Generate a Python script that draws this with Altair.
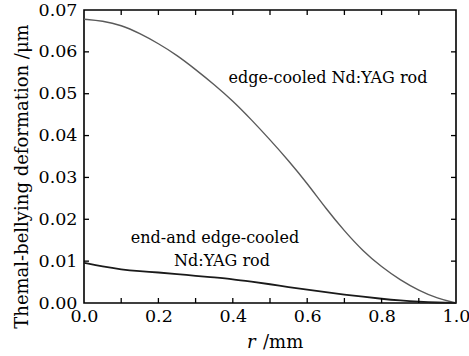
import altair as alt
import pandas as pd

r_vals = [0.0, 0.05, 0.1, 0.15, 0.2, 0.25, 0.3, 0.35, 0.4, 0.45, 0.5,
          0.55, 0.6, 0.65, 0.7, 0.75, 0.8, 0.85, 0.9, 0.95, 1.0]
edge_cooled = [0.0678, 0.0674, 0.0664, 0.0644, 0.0620, 0.0592, 0.0558, 0.0522,
               0.0483, 0.0438, 0.0390, 0.0340, 0.0286, 0.0226, 0.0172, 0.0124,
               0.0086, 0.0055, 0.0030, 0.0011, 0.0]
end_edge_cooled = [0.0096, 0.0087, 0.0080, 0.0076, 0.0073, 0.0069, 0.0065, 0.0061,
                   0.0057, 0.0051, 0.0045, 0.0038, 0.0032, 0.0026, 0.0020, 0.0015,
                   0.0010, 0.0006, 0.0003, 0.0001, 0.0]

x_ticks = [0.1, 0.2, 0.3, 0.4, 0.5, 0.6, 0.7, 0.8, 0.9]
y_ticks = [0.01, 0.02, 0.03, 0.04, 0.05, 0.06]

labels = ["edge-cooled Nd:YAG rod", "end-and edge-cooled", "Nd:YAG rod"]
label_r = [0.656, 0.352, 0.371]
label_v = [0.0537, 0.0155, 0.0100]

FONT = "DejaVu Serif"
W, H = 372, 293

df = pd.DataFrame({"r": r_vals, "edge": edge_cooled, "end": end_edge_cooled})
xs = alt.Scale(domain=[0, 1], nice=False)
ys = alt.Scale(domain=[0, 0.07], nice=False)

base = alt.Chart(df)

upper = base.mark_line(color="#5a5a5a", strokeWidth=1.4, interpolate="basis").encode(
    x=alt.X("r:Q", scale=xs,
            axis=alt.Axis(values=[0, 0.2, 0.4, 0.6, 0.8, 1.0], format=".1f", title=None,
                          ticks=False, domain=False, grid=False, labelPadding=4,
                          labelFlush=False, labelOverlap=False,
                          labelFont=FONT, labelFontSize=17.5, labelColor="black")),
    y=alt.Y("edge:Q", scale=ys,
            axis=alt.Axis(values=[0, 0.01, 0.02, 0.03, 0.04, 0.05, 0.06, 0.07], format=".2f",
                          title="Themal-bellying deformation /μm",
                          ticks=False, domain=False, grid=False, labelPadding=7,
                          labelFlush=False, labelOverlap=False,
                          labelFont=FONT, labelFontSize=17.5, labelColor="black",
                          titleFont=FONT, titleFontSize=18, titleFontWeight="normal",
                          titleColor="black", titleX=-62, titleY=166, titleAngle=-90,
                          titleAlign="center", titleBaseline="middle")),
)
lower = base.mark_line(color="#1a1a1a", strokeWidth=1.8, interpolate="basis").encode(
    x=alt.X("r:Q", scale=xs), y=alt.Y("end:Q", scale=ys)
)

xt = alt.Chart(pd.DataFrame({"t": x_ticks}))
yt = alt.Chart(pd.DataFrame({"t": y_ticks}))
tick_style = dict(color="black", strokeWidth=1.3)
xb = xt.mark_rule(**tick_style).encode(x=alt.X("t:Q", scale=xs), y=alt.value(H), y2=alt.value(H - 5))
xtop = xt.mark_rule(**tick_style).encode(x=alt.X("t:Q", scale=xs), y=alt.value(0), y2=alt.value(5))
yl = yt.mark_rule(**tick_style).encode(y=alt.Y("t:Q", scale=ys), x=alt.value(0), x2=alt.value(5))
yr = yt.mark_rule(**tick_style).encode(y=alt.Y("t:Q", scale=ys), x=alt.value(W), x2=alt.value(W - 5))

ann = alt.Chart(pd.DataFrame({"label": labels, "r": label_r, "v": label_v})).mark_text(
    font=FONT, fontSize=16, color="black", align="center", baseline="middle"
).encode(x=alt.X("r:Q", scale=xs), y=alt.Y("v:Q", scale=ys), text="label:N")

xr = alt.Chart(pd.DataFrame({"s": ["r"]})).mark_text(
    font=FONT, fontSize=18, fontStyle="italic", color="black", align="left", baseline="middle"
).encode(x=alt.value(163), y=alt.value(333), text="s:N")
xmm = alt.Chart(pd.DataFrame({"s": ["/mm"]})).mark_text(
    font=FONT, fontSize=18, color="black", align="left", baseline="middle"
).encode(x=alt.value(179), y=alt.value(333), text="s:N")

chart = alt.layer(upper, lower, xb, xtop, yl, yr, ann, xr, xmm).properties(
    width=W, height=H,
    autosize=alt.AutoSizeParams(type="none"),
    padding={"left": 84, "top": 10, "right": 13, "bottom": 53},
    background="white",
).configure_view(stroke="black", strokeWidth=1.6)

chart.save("out.html", embed_options={"renderer": "svg", "actions": False})
